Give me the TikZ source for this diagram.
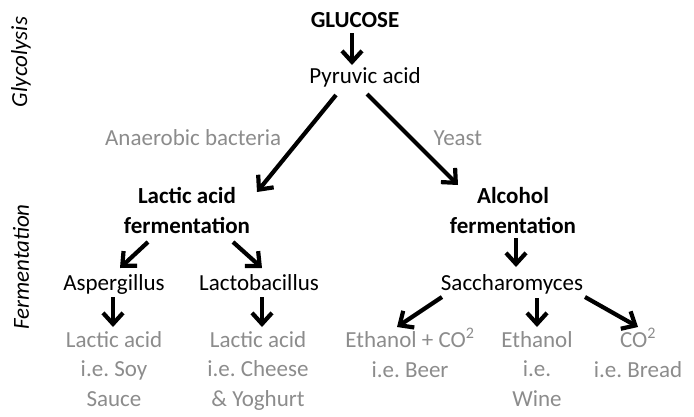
\documentclass[tikz,border=0pt]{standalone}
\usepackage{fontspec}
\setmainfont{Carlito}
\usetikzlibrary{arrows.meta, positioning}
\definecolor{softgray}{gray}{0.55}
\frenchspacing
\tikzset {
    ->,
    >={Straight Barb[length=11pt,width=20pt]},
    every node/.style={font=\fontsize{23}{29.5}\selectfont, inner sep=0pt, anchor=base, align=center},
    stage/.style={font=\fontsize{23}{29.5}\selectfont\bfseries},
    product/.style={text=softgray},
    phase/.style={font=\fontsize{23}{29.5}\selectfont\itshape, rotate=90, anchor=center}
}
\begin{document}
\begin{tikzpicture}[x=1pt, y=-1pt]
                        \useasboundingbox (0,0) rectangle (694,416);

                        \node[phase] (glyc) at (21,62) {Glycolysis};
                        \node[phase] (ferm) at (21,267) {Fermentation};

                        \node[stage] (glu) at (355,27) {GLUCOSE};
                        \node (pyr) at (365,83) {Pyruvic acid};
                        \node[stage] (lac) at (187,233) {Lactic acid\\fermentation};
                        \node[stage] (alc) at (513,233) {Alcohol\\fermentation};
                        \node (asp) at (114,290) {Aspergillus};
                        \node (lcb) at (259,290) {Lactobacillus};
                        \node (sac) at (512,290) {Saccharomyces};
                        \node[product] (soy) at (114,406) {Lactic acid\\i.e. Soy\\Sauce};
                        \node[product] (chs) at (258,406) {Lactic acid\\i.e. Cheese\\\& Yoghurt};
                        \node[product] (beer) at (410,377) {Ethanol + CO\textsuperscript{2}\\i.e. Beer};
                        \node[product] (wine) at (537,406) {Ethanol\\i.e.\\Wine};
                        \node[product] (brd) at (638,377) {CO\textsuperscript{2}\\i.e. Bread};

                        \path[line width=4.2pt]
                        ([xshift=-3pt,yshift=-6pt]glu.base) edge ([xshift=-13pt,yshift=18pt]pyr.base)
                        ([xshift=-29pt,yshift=-12pt]pyr.base) edge node[product, left=18pt, pos=0.44] {Anaerobic bacteria} ([xshift=70pt,yshift=41pt]lac.base)
                        ([xshift=2pt,yshift=-11pt]pyr.base) edge node[product, right=20pt, pos=0.49] {Yeast} ([xshift=-55pt,yshift=48pt]alc.base)
                        ([xshift=-39pt,yshift=-9pt]lac.base) edge ([xshift=6pt,yshift=22pt]asp.base)
                        ([xshift=46pt,yshift=-9pt]lac.base) edge ([xshift=3pt,yshift=22pt]lcb.base)
                        ([xshift=-1pt,yshift=-7pt]asp.base) edge ([xshift=-1pt,yshift=79pt]soy.base)
                        ([xshift=3pt,yshift=-7pt]lcb.base) edge ([xshift=4pt,yshift=79pt]chs.base)
                        ([xshift=3pt,yshift=-5pt]alc.base) edge ([xshift=4pt,yshift=23pt]sac.base)
                        ([xshift=-70pt,yshift=-7pt]sac.base) edge ([xshift=-13pt,yshift=50pt]beer.base)
                        ([xshift=25pt,yshift=-8pt]sac.base) edge ([yshift=79pt]wine.base)
                        ([xshift=73pt,yshift=-7pt]sac.base) edge ([yshift=50pt]brd.base);

                    \end{tikzpicture}
\end{document}
